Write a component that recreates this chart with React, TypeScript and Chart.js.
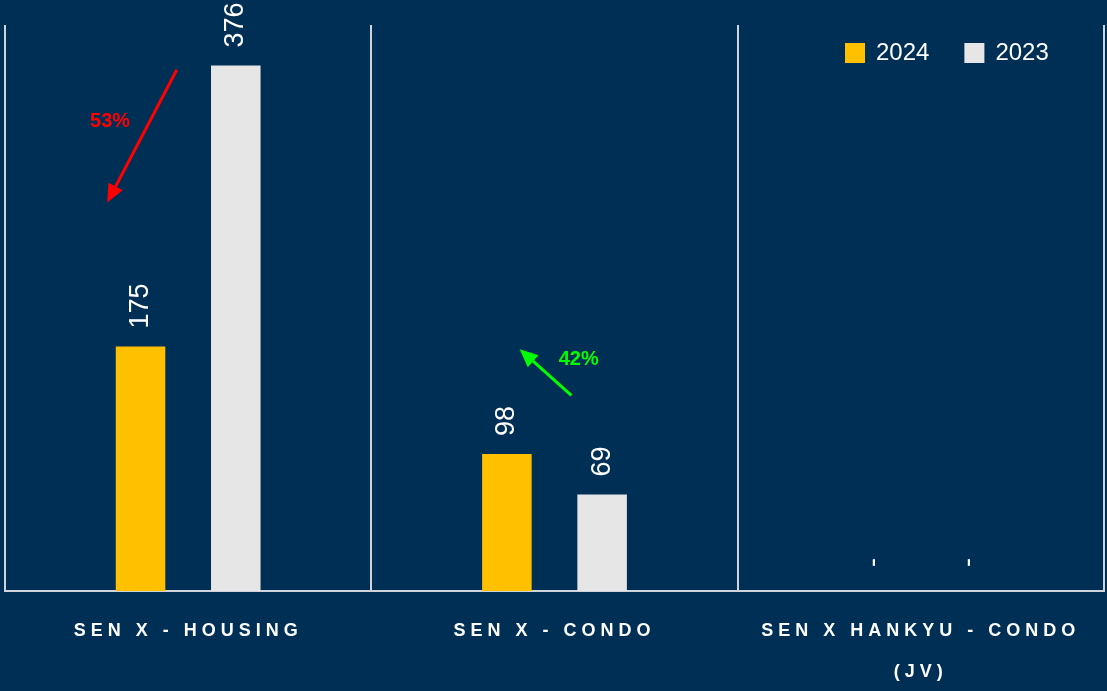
import React, { useEffect, useRef } from "react";
import { Chart, registerables } from "chart.js";

Chart.register(...registerables);

// ---- data ----
const categories: (string | string[])[] = [
  "SEN X - HOUSING",
  "SEN X - CONDO",
  ["SEN X HANKYU - CONDO", "(JV)"],
];
const seriesNames = ["2024", "2023"];
const values2024 = [175, 98, 0];
const values2023 = [376, 69, 0];
const yMax = 405;

// change annotations (category index, offset within category in category widths, value units)
const changeLabels = ["53%", "42%"];
const changeCategory = [0, 1];
const arrowTailOffset = [-0.031, 0.046];
const arrowTailValue = [373, 140];
const arrowHeadOffset = [-0.221, -0.095];
const arrowHeadValue = [278, 173];
const changeLabelOffset = [-0.213, 0.066];
const changeLabelValue = [336, 166];

// ---- styles ----
const BG = "#002F56";
const FONT = "'Liberation Sans', Arial, Helvetica, sans-serif";
const COLORS = ["#FFC000", "#E7E6E6"];
const CHANGE_COLORS = ["#FF0000", "#00FF00"];
const GRID = "#D0D4DA";

function drawArrow(ctx: CanvasRenderingContext2D, x1: number, y1: number, x2: number, y2: number, color: string) {
  const ang = Math.atan2(y2 - y1, x2 - x1);
  const hl = 18;
  const hw = 8;
  const bx = x2 - hl * Math.cos(ang);
  const by = y2 - hl * Math.sin(ang);
  ctx.save();
  ctx.strokeStyle = color;
  ctx.fillStyle = color;
  ctx.lineWidth = 3;
  ctx.beginPath();
  ctx.moveTo(x1, y1);
  ctx.lineTo(bx, by);
  ctx.stroke();
  ctx.beginPath();
  ctx.moveTo(x2, y2);
  ctx.lineTo(bx + hw * Math.sin(ang), by - hw * Math.cos(ang));
  ctx.lineTo(bx - hw * Math.sin(ang), by + hw * Math.cos(ang));
  ctx.closePath();
  ctx.fill();
  ctx.restore();
}

const overlayPlugin = {
  id: "overlay",
  beforeDraw(chart: any) {
    (chart.ctx as any).letterSpacing = "0px";
  },
  afterDatasetsDraw(chart: any) {
    const ctx: CanvasRenderingContext2D = chart.ctx;
    const xs = chart.scales.x;
    const ys = chart.scales.y;
    ctx.save();
    (ctx as any).letterSpacing = "0px";
    // value labels
    chart.data.datasets.forEach((ds: any, di: number) => {
      const meta = chart.getDatasetMeta(di);
      meta.data.forEach((bar: any, i: number) => {
        const v = ds.data[i];
        const text = v ? String(v) : "-";
        ctx.save();
        ctx.translate(bar.x, bar.y - (v ? 18 : 24));
        ctx.rotate(-Math.PI / 2);
        ctx.font = `27px ${FONT}`;
        ctx.fillStyle = "#FFFFFF";
        ctx.textAlign = "left";
        ctx.textBaseline = "middle";
        ctx.fillText(text, 0, 0);
        ctx.restore();
      });
    });
    // change arrows
    const catW = xs.getPixelForValue(1) - xs.getPixelForValue(0);
    changeLabels.forEach((lbl, k) => {
      const cx = xs.getPixelForValue(changeCategory[k]);
      const color = CHANGE_COLORS[k];
      drawArrow(
        ctx,
        cx + arrowTailOffset[k] * catW,
        ys.getPixelForValue(arrowTailValue[k]),
        cx + arrowHeadOffset[k] * catW,
        ys.getPixelForValue(arrowHeadValue[k]),
        color
      );
      ctx.save();
      ctx.font = `bold 20px ${FONT}`;
      ctx.fillStyle = color;
      ctx.textAlign = "center";
      ctx.textBaseline = "middle";
      ctx.fillText(lbl, cx + changeLabelOffset[k] * catW, ys.getPixelForValue(changeLabelValue[k]));
      ctx.restore();
    });
    ctx.restore();
    // letter spacing for the category labels drawn after datasets
    (ctx as any).letterSpacing = "5px";
  },
  afterDraw(chart: any) {
    const ctx: CanvasRenderingContext2D = chart.ctx;
    (ctx as any).letterSpacing = "0px";
    // legend
    const area = chart.chartArea;
    ctx.save();
    ctx.font = `24px ${FONT}`;
    ctx.textBaseline = "middle";
    ctx.textAlign = "left";
    let x = area.right - 259;
    const top = 43;
    chart.data.datasets.forEach((ds: any) => {
      ctx.fillStyle = ds.backgroundColor;
      ctx.fillRect(x, top, 20, 20);
      ctx.fillStyle = "#FFFFFF";
      ctx.fillText(ds.label, x + 31, top + 10.5);
      x += 31 + ctx.measureText(ds.label).width + 35;
    });
    ctx.restore();
  },
};

export default function App() {
  const ref = useRef<HTMLCanvasElement | null>(null);
  useEffect(() => {
    document.body.style.margin = "0";
    const canvas = ref.current;
    if (!canvas) return;
    const chart = new Chart(canvas, {
      type: "bar",
      data: {
        labels: categories,
        datasets: [
          { label: seriesNames[0], data: values2024, backgroundColor: COLORS[0], categoryPercentage: 0.52, barPercentage: 0.52 },
          { label: seriesNames[1], data: values2023, backgroundColor: COLORS[1], categoryPercentage: 0.52, barPercentage: 0.52 },
        ],
      },
      options: {
        responsive: false,
        animation: false,
        layout: { padding: { top: 25, left: 5, right: 3, bottom: 0 } },
        plugins: { legend: { display: false }, tooltip: { enabled: false } },
        scales: {
          x: {
            grid: { display: true, color: GRID, lineWidth: 2, drawTicks: false, offset: true },
            border: { display: true, color: GRID, width: 2 },
            ticks: {
              color: "#FFFFFF",
              font: { family: FONT, size: 18, weight: "bold", lineHeight: 2.3 },
              padding: 19,
              z: 1,
              maxRotation: 0,
              minRotation: 0,
              autoSkip: false,
            },
            afterFit: (s: any) => {
              s.height = 100;
            },
          },
          y: { display: false, min: 0, max: yMax },
        },
      },
      plugins: [overlayPlugin],
    } as any);
    return () => chart.destroy();
  }, []);
  return (
    <div style={{ position: "fixed", inset: 0, background: BG }}>
      <canvas ref={ref} width={1107} height={691} style={{ display: "block" }} />
    </div>
  );
}
